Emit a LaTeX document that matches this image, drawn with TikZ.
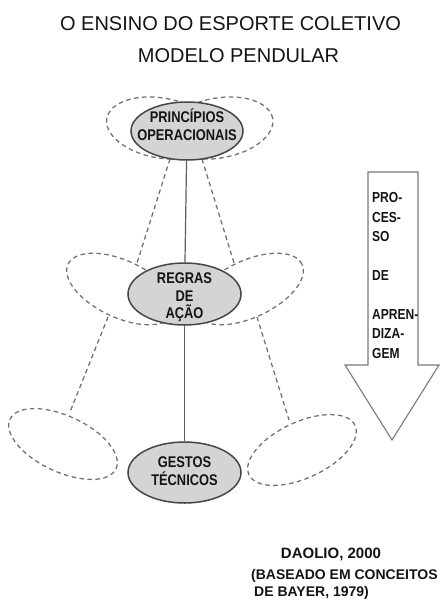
\documentclass[tikz,border=0pt]{standalone}
\usepackage{fontspec}
\setmainfont{Liberation Sans}
\newfontfamily\narrowfont[FakeStretch=0.83]{Liberation Sans}
\usetikzlibrary{shapes.geometric}
\pgfdeclarelayer{bg}
\pgfsetlayers{bg,main}
\definecolor{lobegray}{RGB}{112,112,112}
\definecolor{stemgray}{RGB}{95,95,95}
\definecolor{ovalfill}{RGB}{212,212,212}
\definecolor{ovalborder}{RGB}{70,70,70}
\definecolor{arrowgray}{RGB}{120,120,120}
\definecolor{ink}{RGB}{20,20,20}
\begin{document}
\begin{tikzpicture}[x=1pt,y=-1pt,
  lobe/.style={draw=lobegray, line width=1.25pt, dash pattern=on 4.5pt off 3.5pt},
  link/.style={lobe},
  stem/.style={draw=stemgray, line width=1.2pt},
  oval/.style={ellipse, draw=ovalborder, fill=ovalfill, line width=1.5pt,
    inner sep=0pt, minimum width=113pt, minimum height=61pt},
  ovaltext/.style={text=ink, inner sep=0pt, align=center,
    font={\narrowfont\bfseries\fontsize{15.5}{18}\selectfont}},
  titletext/.style={text=ink, inner sep=0pt, anchor=base,
    font={\fontsize{20}{24}\selectfont}},
  arrowtext/.style={text=ink, inner sep=0pt, align=left, anchor=north west,
    font={\narrowfont\bfseries\fontsize{14.5}{19.4}\selectfont}},
  creditbig/.style={text=ink, inner sep=0pt, anchor=base,
    font={\bfseries\fontsize{15}{18}\selectfont}},
  creditsmall/.style={text=ink, inner sep=0pt, anchor=base west,
    font={\bfseries\fontsize{14}{17}\selectfont}},
  bigarrow/.style={draw=arrowgray, fill=white, line width=1.1pt, line join=miter}
]
\useasboundingbox (0,0) rectangle (440,600);

% title
\node[titletext] (t1) at (230.5,30.2) {O ENSINO DO ESPORTE COLETIVO};
\node[titletext] (t2) at (238.5,62.2) {MODELO PENDULAR};

% ovals
\node[oval, minimum width=112pt, minimum height=58pt] (p) at (187,131) {};
\node[oval, minimum height=62pt] (r) at (184.5,294) {};
\node[oval] (g) at (184.5,472.5) {};
\node[ovaltext] (pt) at (187,124.5) {PRINCÍPIOS\\OPERACIONAIS};
\node[ovaltext, font={\narrowfont\bfseries\fontsize{15.5}{17.5}\selectfont}] (rt) at (184.5,297.5) {REGRAS\\DE\\AÇÃO};
\node[ovaltext] (gt) at (184.5,471) {GESTOS\\TÉCNICOS};

% link end points
\coordinate (a1) at (170,159);
\coordinate (a2) at (137,263);
\coordinate (b1) at (202,159);
\coordinate (b2) at (234,263);
\coordinate (c1) at (108,317);
\coordinate (c2) at (70,412);
\coordinate (d1) at (257,317);
\coordinate (d2) at (289,420);

\begin{pgfonlayer}{bg}
  \fill[white] (0,0) rectangle (440,600);
  % dashed lobes
  \draw[lobe, rotate around={-10:(161,128)}] (161,128) ellipse [x radius=55pt, y radius=30pt];
  \draw[lobe, rotate around={10:(218.5,128)}] (218.5,128) ellipse [x radius=55pt, y radius=30pt];
  \draw[lobe, rotate around={-25:(121,289)}] (121,289) ellipse [x radius=58.5pt, y radius=28.5pt];
  \draw[lobe, rotate around={25:(249,289)}] (249,289) ellipse [x radius=58.5pt, y radius=28.5pt];
  \draw[lobe, rotate around={-25:(63,444)}] (63,444) ellipse [x radius=58.5pt, y radius=28pt];
  \draw[lobe, rotate around={25:(302,450)}] (302,450) ellipse [x radius=58.5pt, y radius=28pt];
  % dashed links
  \draw[link] (a1) -- (a2);
  \draw[link] (b1) -- (b2);
  \draw[link] (c1) -- (c2);
  \draw[link] (d1) -- (d2);
  % stems
  \draw[stem] (p) -- (r);
  \draw[stem] (r) -- (g);
\end{pgfonlayer}

% big arrow
\draw[bigarrow] (368,172) -- (418,172) -- (418,365) -- (439,365) -- (392,440)
  -- (345,365) -- (368,365) -- cycle;
\node[arrowtext] (at) at (372,192.5) {PRO-\\CES-\\SO\\[19.4pt]DE\\[19.4pt]APREN-\\DIZA-\\GEM};

% credits
\node[creditbig] (da) at (331,558.4) {DAOLIO, 2000};
\node[creditsmall] (n1) at (251,579) {(BASEADO EM CONCEITOS};
\node[creditsmall] (n2) at (254,596) {DE BAYER, 1979)};
\end{tikzpicture}
\end{document}
